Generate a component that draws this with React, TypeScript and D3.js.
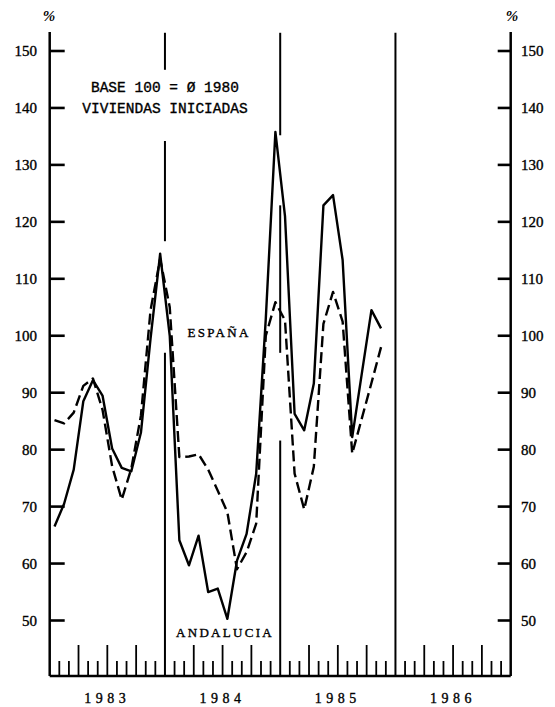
import React from "react";
import * as d3 from "d3";

// Monthly index values, Jan 1983 .. Nov 1985 (base 100 = average 1980)
const andalucia = [
  66.5, 70.5, 76.5, 88.5, 92.2, 89.5, 80.2, 76.8, 76.2, 83.0, 99.5, 114.4,
  100.0, 64.1, 59.7, 64.9, 55.0, 55.6, 50.3, 60.5, 65.2, 75.8, 103.0, 135.8,
  121.0, 86.3, 83.4, 91.6, 122.9, 124.7, 113.3, 82.2, 93.4, 104.5, 101.3,
];
const espana = [
  85.2, 84.6, 86.5, 91.2, 92.5, 87.0, 77.1, 71.2, 76.7, 86.0, 104.5, 113.5,
  105.0, 78.7, 78.8, 79.2, 76.5, 72.8, 69.0, 59.0, 62.0, 67.0, 100.0, 105.9,
  102.7, 75.8, 69.5, 77.0, 102.1, 107.7, 102.5, 79.3, 85.5, 91.7, 98.0,
];
const years = ["1983", "1984", "1985", "1986"];
const yTicks = [50, 60, 70, 80, 90, 100, 110, 120, 130, 140, 150];
// visible pieces of the year dividers, in index units (gaps where text/curves pass)
const dividerPieces: [number, number][][] = [
  [[153.2, 146.7], [134.2, 116.6], [97.0, 40]],
  [[153.2, 135.2], [122.9, 97.0], [81.6, 40]],
  [[153.2, 40]],
];
const titleLines = ["BASE 100 = Ø 1980", "VIVIENDAS INICIADAS"];

const W = 555;
const H = 707;
const left = 49.7;
const right = 510.7;
const top = 32;
const bottom = 676;

export default function App() {
  const x = d3.scaleLinear().domain([0, 48]).range([left, right]);
  const y = d3.scaleLinear().domain([50, 150]).range([620.5, 51]);
  const yFull = (v: number) => Math.min(bottom, Math.max(top, y(v)));

  const line = d3
    .line<number>()
    .x((_, i) => x(i + 0.5))
    .y((d) => y(d))
    .curve(d3.curveLinear);

  const months = d3.range(1, 48).filter((m) => m % 12 !== 0);
  const mono = "'Liberation Mono', 'DejaVu Sans Mono', monospace";
  const serif = "'Liberation Serif', 'DejaVu Serif', serif";
  const ink = { fill: "#000", stroke: "#000", strokeWidth: 0.35 };

  return (
    <svg
      width={W}
      height={H}
      style={{ position: "absolute", left: 0, top: 0, display: "block", background: "#fff" }}
    >
      {/* axes */}
      <line x1={left} x2={left} y1={top} y2={bottom} stroke="#000" strokeWidth={2.5} />
      <line x1={right} x2={right} y1={top} y2={bottom} stroke="#000" strokeWidth={2.5} />
      <line x1={left} x2={right} y1={bottom} y2={bottom} stroke="#000" strokeWidth={2.3} />

      {/* year dividers */}
      {dividerPieces.map((pieces, k) =>
        pieces.map(([a, b], j) => (
          <line
            key={`d${k}-${j}`}
            x1={x((k + 1) * 12)}
            x2={x((k + 1) * 12)}
            y1={yFull(a)}
            y2={yFull(b)}
            stroke="#000"
            strokeWidth={2}
          />
        ))
      )}

      {/* month ticks */}
      {months.map((m) => (
        <line
          key={`m${m}`}
          x1={x(m)}
          x2={x(m)}
          y1={bottom}
          y2={bottom - (m % 3 === 0 ? 31 : 15)}
          stroke="#000"
          strokeWidth={1.8}
        />
      ))}

      {/* y ticks */}
      {yTicks.map((t) => (
        <g key={`t${t}`}>
          <line x1={left} x2={left + 15} y1={y(t)} y2={y(t)} stroke="#000" strokeWidth={2.6} />
          <line x1={right} x2={right - 13} y1={y(t)} y2={y(t)} stroke="#000" strokeWidth={2.6} />
          <text x={37} y={y(t)} dy="0.35em" textAnchor="end" fontFamily={serif} fontSize={15} {...ink}>
            {t}
          </text>
          <text x={521} y={y(t)} dy="0.35em" textAnchor="start" fontFamily={serif} fontSize={15} {...ink}>
            {t}
          </text>
        </g>
      ))}
      <text x={49} y={21} textAnchor="middle" fontFamily={serif} fontSize={15} fontWeight="bold" fontStyle="italic">
        %
      </text>
      <text x={512} y={21} textAnchor="middle" fontFamily={serif} fontSize={15} fontWeight="bold" fontStyle="italic">
        %
      </text>

      {/* series */}
      <path d={line(espana) ?? ""} fill="none" stroke="#000" strokeWidth={2.4} strokeDasharray="11,5" strokeLinejoin="round" />
      <path d={line(andalucia) ?? ""} fill="none" stroke="#000" strokeWidth={2.4} strokeLinejoin="round" />

      {/* year labels */}
      {years.map((yr, k) => (
        <text
          key={yr}
          x={x(k * 12 + 6)}
          y={703}
          textAnchor="middle"
          fontFamily={serif}
          fontSize={14}
          letterSpacing={4.5}
          {...ink}
        >
          {yr}
        </text>
      ))}

      {/* annotations */}
      {titleLines.map((t, i) => (
        <text
          key={t}
          x={x(12)}
          y={92 + i * 21}
          textAnchor="middle"
          fontFamily={mono}
          fontSize={14.5}
          {...ink}
        >
          {t}
        </text>
      ))}
      <text x={219} y={337} textAnchor="middle" fontFamily={serif} fontSize={13} letterSpacing={2.3} {...ink}>
        ESPAÑA
      </text>
      <text x={225} y={637} textAnchor="middle" fontFamily={serif} fontSize={13} letterSpacing={2.3} {...ink}>
        ANDALUCIA
      </text>
    </svg>
  );
}
